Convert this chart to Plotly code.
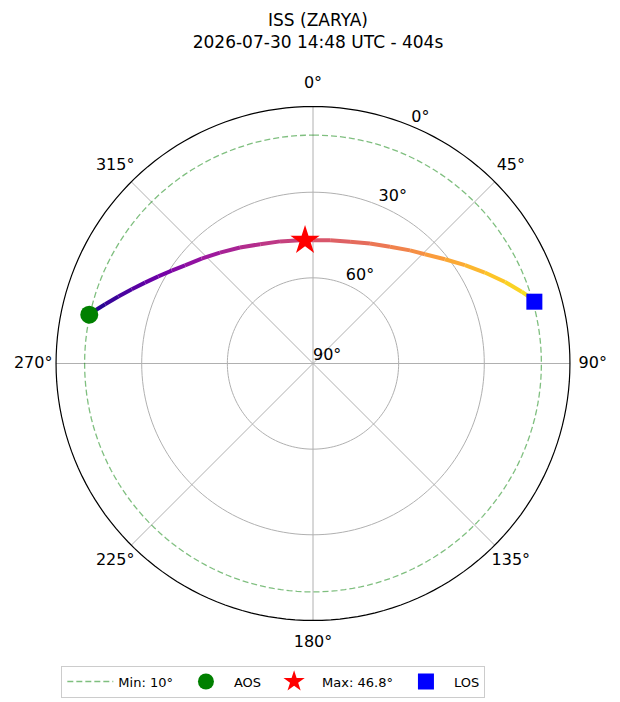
import plotly.graph_objects as go
from plotly.colors import sample_colorscale

# pass geometry (azimuth deg, elevation deg)
track_az = [282.3, 283.0, 285.9, 289.0, 292.3, 295.7, 299.4, 303.3, 307.5, 313.3,
            320.0, 327.8, 336.1, 344.9, 354.0, 0.1, 7.9, 16.9, 25.4, 33.4,
            40.6, 45.7, 51.7, 57.1, 62.1, 67.0, 71.0, 73.5, 74.4]
track_el = [9.8, 10.5, 14.3, 17.9, 21.4, 24.7, 27.8, 30.8, 33.5, 36.4,
            39.3, 42.0, 44.3, 45.7, 46.6, 46.8, 46.4, 45.4, 43.5, 41.0,
            37.8, 35.2, 31.1, 26.6, 21.9, 16.9, 12.7, 10.1, 9.5]

aos = (282.3, 9.8)
peak = (356.3, 46.8)
los = (74.4, 9.5)
min_el = 10

title = "ISS (ZARYA)<br>2026-07-30 14:48 UTC - 404s"
az_ticks = [0, 45, 90, 135, 180, 225, 270, 315]
el_ticks = [90, 60, 30, 0]

def to_r(el):
    return 90 - el

fig = go.Figure()
circle = list(range(0, 361, 2))
grey = "#b0b0b0"

# grid drawn by hand so the tick labels can sit outside the rim
for e in [60, 30]:
    fig.add_trace(go.Scatterpolar(
        r=[to_r(e)] * len(circle), theta=circle, mode="lines",
        line=dict(color=grey, width=1), showlegend=False, hoverinfo="skip"))
spoke_r, spoke_t = [], []
for a in az_ticks:
    spoke_r += [0, 90, None]
    spoke_t += [a, a, None]
fig.add_trace(go.Scatterpolar(
    r=spoke_r, theta=spoke_t, mode="lines", connectgaps=False,
    line=dict(color=grey, width=1), showlegend=False, hoverinfo="skip"))
fig.add_trace(go.Scatterpolar(
    r=[90] * len(circle), theta=circle, mode="lines",
    line=dict(color="black", width=1.2), showlegend=False, hoverinfo="skip"))

# minimum elevation ring
fig.add_trace(go.Scatterpolar(
    r=[to_r(min_el)] * len(circle), theta=circle, mode="lines",
    line=dict(color="rgba(0,128,0,0.5)", width=1.3, dash="6px,3px"),
    name=f"Min: {min_el}°"))

# colour the track segment by segment (plasma, start -> end)
n = len(track_az)
cols = sample_colorscale("Plasma", [(i + 0.5) / (n - 1) for i in range(n - 1)])
for i in range(n - 1):
    fig.add_trace(go.Scatterpolar(
        r=[to_r(track_el[i]), to_r(track_el[i + 1])],
        theta=[track_az[i], track_az[i + 1]],
        mode="lines", line=dict(color=cols[i], width=4),
        showlegend=False, hoverinfo="skip"))

fig.add_trace(go.Scatterpolar(
    r=[to_r(aos[1])], theta=[aos[0]], mode="markers", name="AOS",
    marker=dict(color="green", size=18, symbol="circle")))
fig.add_trace(go.Scatterpolar(
    r=[to_r(peak[1])], theta=[peak[0]], mode="markers", name=f"Max: {peak[1]}°",
    marker=dict(color="red", size=22, symbol="star")))
fig.add_trace(go.Scatterpolar(
    r=[to_r(los[1])], theta=[los[0]], mode="markers", name="LOS",
    marker=dict(color="blue", size=16, symbol="square")))

# tick labels: azimuths centred just outside the rim, elevations on the 22.5 deg spoke
fig.add_trace(go.Scatterpolar(
    r=[98] * len(az_ticks), theta=az_ticks, mode="text",
    text=[f"{a}°" for a in az_ticks], textposition="middle center",
    textfont=dict(size=16, color="black"), cliponaxis=False,
    showlegend=False, hoverinfo="skip"))
fig.add_trace(go.Scatterpolar(
    r=[to_r(e) for e in el_ticks], theta=[22.5] * len(el_ticks), mode="text",
    text=[f"{e}°" for e in el_ticks], textposition="top right",
    textfont=dict(size=16, color="black"), cliponaxis=False,
    showlegend=False, hoverinfo="skip"))

fig.update_layout(
    width=620, height=702,
    paper_bgcolor="white",
    font=dict(family="DejaVu Sans", color="black"),
    title=dict(text=title, x=0.5, xanchor="center", y=0.975, yanchor="top",
               font=dict(size=17)),
    margin=dict(l=19, r=29, t=70, b=61),
    polar=dict(
        bgcolor="rgba(0,0,0,0)",
        angularaxis=dict(rotation=90, direction="clockwise",
                         showgrid=False, showline=False,
                         showticklabels=False, ticks=""),
        radialaxis=dict(range=[0, 100], showgrid=False, showline=False,
                        showticklabels=False, ticks=""),
    ),
    legend=dict(orientation="h", x=0.06, xanchor="left", y=-0.029, yanchor="top",
                bordercolor="#cccccc", borderwidth=1, bgcolor="white",
                itemwidth=46, font=dict(size=13)),
)

fig.write_html("out.html")
